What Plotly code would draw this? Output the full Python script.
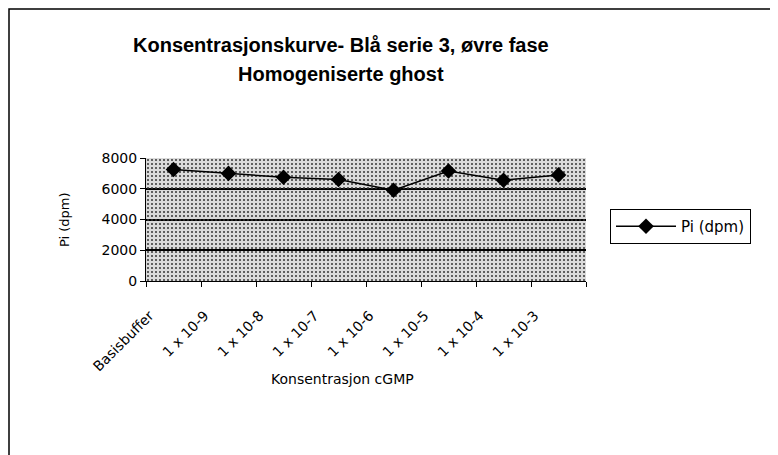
import plotly.graph_objects as go

categories = ["Basisbuffer", "1 x 10-9", "1 x 10-8", "1 x 10-7", "1 x 10-6", "1 x 10-5", "1 x 10-4", "1 x 10-3"]
pi_dpm = [7250, 7000, 6750, 6600, 5900, 7150, 6550, 6900]
y_ticks = [0, 2000, 4000, 6000, 8000]
series_name = "Pi (dpm)"
title_line1 = "Konsentrasjonskurve- Blå serie 3, øvre fase"
title_line2 = "Homogeniserte ghost"
x_title = "Konsentrasjon cGMP"
y_title = "Pi (dpm)"

OFF = 8  # page offset of the figure inside the browser window
W, H = 778 - OFF, 455 - OFF
L, R, T, B = 146, 586, 158, 281  # plot area in screen pixels


def px(x):
    return (x - L) / (R - L)


def py(y):
    return (B - y) / (B - T)


fig = go.Figure()

# stipple texture on the plot background
fig.add_trace(go.Bar(
    x=categories, y=[max(y_ticks)] * len(categories), width=1,
    marker=dict(color="rgba(0,0,0,0)", line=dict(width=0),
                pattern=dict(shape=".", fgcolor="#333333", size=4, solidity=0.2,
                             fillmode="replace")),
    showlegend=False, hoverinfo="skip",
))

fig.add_trace(go.Scatter(
    x=categories, y=pi_dpm, mode="lines+markers", name=series_name,
    line=dict(color="black", width=1.5),
    marker=dict(symbol="diamond", size=12, color="black"),
))

font = "DejaVu Sans"

fig.update_layout(
    width=W, height=H,
    margin=dict(l=L - OFF, r=W - (R - OFF), t=T - OFF, b=H - (B - OFF)),
    paper_bgcolor="white",
    plot_bgcolor="#dadada",
    bargap=0,
    font=dict(family=font, size=12, color="black"),
    showlegend=True,
    legend=dict(x=px(610), y=py(209), xanchor="left", yanchor="top",
                bordercolor="black", borderwidth=1, bgcolor="white",
                font=dict(family=font, size=15), itemwidth=60,
                tracegroupgap=0),
    xaxis=dict(type="category", tickson="boundaries", ticks="outside", ticklen=5,
               tickcolor="black", showline=True, linecolor="black", linewidth=1,
               tickangle=-45, tickfont=dict(family=font, size=14),
               ticklabelstandoff=20, ticklabelshift=-24,
               showgrid=False, mirror=False, range=[-0.5, len(categories) - 0.5]),
    yaxis=dict(range=[0, max(y_ticks)], tickvals=y_ticks, ticks="outside", ticklen=5,
               tickcolor="black", showline=True, linecolor="black", linewidth=1,
               showgrid=True, gridcolor="black", gridwidth=1.5, zeroline=False,
               tickfont=dict(family=font, size=14)),
    annotations=[
        dict(text="<b>%s</b>" % title_line1, x=px(341), y=py(45), xref="paper", yref="paper",
             xanchor="center", yanchor="middle",
             showarrow=False, font=dict(family="Liberation Sans", size=20)),
        dict(text="<b>%s</b>" % title_line2, x=px(341), y=py(74), xref="paper", yref="paper",
             xanchor="center", yanchor="middle",
             showarrow=False, font=dict(family="Liberation Sans", size=20)),
        dict(text=x_title, x=px(342), y=py(379), xref="paper", yref="paper",
             xanchor="center", yanchor="middle",
             showarrow=False, font=dict(family=font, size=14)),
        dict(text=y_title, x=px(64), y=py(220), xref="paper", yref="paper", textangle=-90,
             xanchor="center", yanchor="middle",
             showarrow=False, font=dict(family=font, size=13)),
    ],
    shapes=[
        dict(type="rect", xref="paper", yref="paper", x0=px(9), x1=px(776), y0=py(470), y1=py(9),
             line=dict(color="black", width=1.5), fillcolor="rgba(0,0,0,0)", layer="above"),
    ],
)

fig.write_html("out.html")
